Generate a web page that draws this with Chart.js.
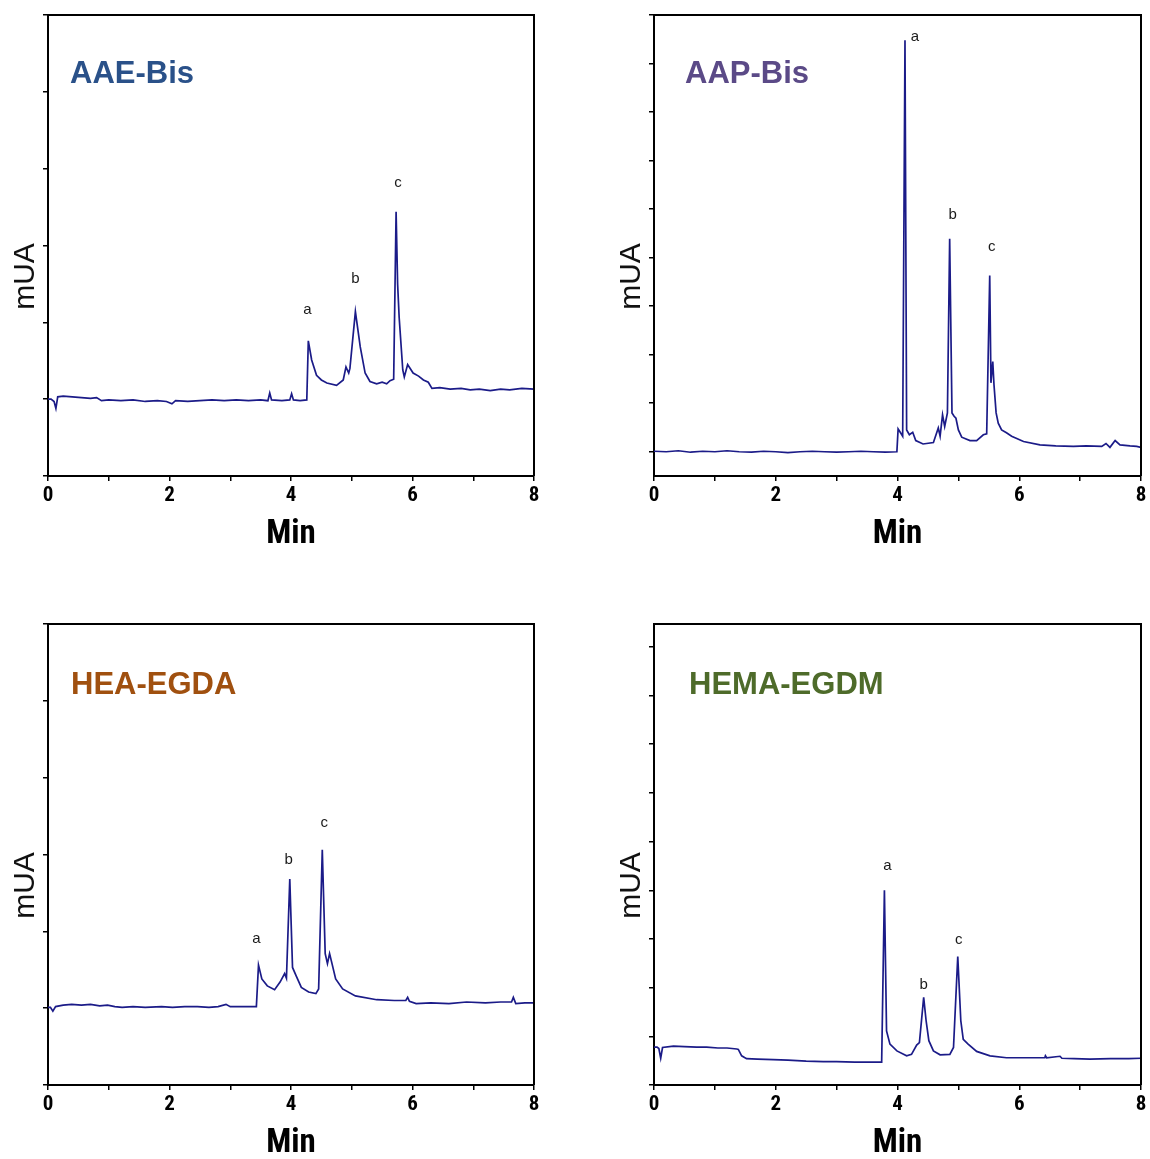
<!DOCTYPE html>
<html>
<head>
<meta charset="utf-8">
<script src="https://cdn.jsdelivr.net/npm/chart.js@4.4.1/dist/chart.umd.min.js"></script>
<style>
  html, body { margin: 0; padding: 0; background: #fff; }
  body { width: 1150px; height: 1159px; position: relative; overflow: hidden; }
  canvas { position: absolute; }
</style>
</head>
<body>
<canvas id="aaeChart" width="544" height="570" style="left:0;top:0"></canvas>
<canvas id="aapChart" width="544" height="570" style="left:606px;top:0"></canvas>
<canvas id="heaChart" width="544" height="570" style="left:0;top:609px"></canvas>
<canvas id="hemaChart" width="544" height="570" style="left:606px;top:609px"></canvas>
<script>
// retention time (min) and detector signal (mUA) for each run
const aaeTime = [0, 0.05, 0.10, 0.13, 0.16, 0.25, 0.40, 0.55, 0.70, 0.80, 0.88, 1.00, 1.20, 1.40, 1.60,
  1.80, 1.95, 2.04, 2.10, 2.30, 2.50, 2.70, 2.90, 3.10, 3.30, 3.50, 3.62, 3.65, 3.68, 3.85, 3.98, 4.01,
  4.04, 4.15, 4.26, 4.285, 4.34, 4.42, 4.50, 4.59, 4.75, 4.86, 4.905, 4.95, 4.97, 5.06, 5.14, 5.22, 5.30,
  5.41, 5.50, 5.575, 5.63, 5.69, 5.73, 5.755, 5.78, 5.84, 5.865, 5.92, 6.01, 6.10, 6.18, 6.26, 6.32,
  6.45, 6.62, 6.80, 6.95, 7.10, 7.28, 7.45, 7.60, 7.80, 8.00];
const aaeSignal = [10.0, 10.0, 9.7, 8.8, 10.3, 10.4, 10.3, 10.2, 10.1, 10.2, 9.8, 9.9, 9.8, 9.9, 9.7,
  9.8, 9.7, 9.4, 9.8, 9.7, 9.8, 9.9, 9.8, 9.9, 9.8, 9.9, 9.8, 10.8, 9.9, 9.8, 9.9, 10.7,
  9.9, 9.8, 9.9, 17.6, 15.1, 13.1, 12.5, 12.1, 11.8, 12.5, 14.2, 13.4, 14.0, 21.4, 16.8, 13.4, 12.3,
  12.0, 12.2, 12.0, 12.4, 12.6, 34.4, 25.0, 20.7, 13.8, 12.9, 14.5, 13.4, 13.0, 12.5, 12.2, 11.4,
  11.5, 11.3, 11.4, 11.2, 11.3, 11.1, 11.3, 11.2, 11.4, 11.3];

const aapTime = [0.00, 0.20, 0.40, 0.60, 0.80, 1.00, 1.20, 1.40, 1.60, 1.80, 2.00, 2.20, 2.40, 2.60, 2.80,
  3.00, 3.20, 3.40, 3.60, 3.80, 3.99, 4.01, 4.05, 4.085, 4.123, 4.15, 4.195, 4.25, 4.30, 4.42,
  4.59, 4.67, 4.70, 4.74, 4.775, 4.82, 4.857, 4.895, 4.93, 4.96, 5.00, 5.055, 5.19, 5.30, 5.41,
  5.465, 5.515, 5.535, 5.565, 5.585, 5.62, 5.655, 5.71, 5.79, 5.875, 6.07, 6.34, 6.60, 6.89, 7.10,
  7.355, 7.425, 7.49, 7.575, 7.655, 7.82, 7.93, 8.00];
const aapSignal = [0.1, 0.0, 0.2, -0.1, 0.1, 0.0, 0.2, 0.0, -0.1, 0.1, 0.0, -0.2, 0.0, 0.1, 0.0,
  -0.1, 0.0, 0.1, 0.0, -0.1, 0.0, 4.7, 3.9, 3.2, 84.8, 4.5, 3.5, 4.0, 2.3, 1.6,
  1.9, 4.9, 3.2, 7.6, 5.2, 8.0, 43.9, 8.0, 7.3, 6.9, 4.5, 3.0, 2.3, 2.3, 3.5,
  3.7, 36.3, 14.2, 18.6, 13.8, 8.0, 5.9, 4.5, 3.9, 3.2, 2.1, 1.4, 1.2, 1.1, 1.2,
  1.1, 1.7, 0.9, 2.3, 1.4, 1.2, 1.1, 0.9];

const heaTime = [0.00, 0.04, 0.08, 0.125, 0.25, 0.39, 0.55, 0.70, 0.85, 0.98, 1.10, 1.22, 1.40, 1.60, 1.87,
  2.05, 2.25, 2.46, 2.65, 2.80, 2.93, 3.00, 3.15, 3.34, 3.43, 3.465, 3.52, 3.61, 3.73, 3.82,
  3.895, 3.925, 3.98, 4.025, 4.085, 4.17, 4.29, 4.41, 4.455, 4.515, 4.563, 4.60, 4.635, 4.675, 4.735,
  4.85, 5.06, 5.41, 5.70, 5.89, 5.92, 5.95, 6.06, 6.30, 6.60, 6.89, 7.20, 7.45, 7.63, 7.66,
  7.70, 7.85, 8.00];
const heaSignal = [10.1, 10.1, 9.6, 10.2, 10.4, 10.5, 10.4, 10.5, 10.3, 10.4, 10.2, 10.1, 10.2, 10.1, 10.2,
  10.1, 10.2, 10.2, 10.1, 10.2, 10.5, 10.2, 10.2, 10.2, 10.2, 15.6, 13.8, 12.9, 12.4, 13.4,
  14.5, 13.9, 26.8, 15.3, 14.2, 12.7, 12.1, 11.9, 12.5, 30.6, 17.1, 15.8, 17.1, 15.8, 13.8,
  12.5, 11.6, 11.1, 11.0, 11.0, 11.4, 10.9, 10.6, 10.7, 10.6, 10.8, 10.7, 10.8, 10.8, 11.4,
  10.6, 10.7, 10.7];

const hemaTime = [0.00, 0.05, 0.08, 0.11, 0.14, 0.32, 0.50, 0.70, 0.865, 1.05, 1.20, 1.36, 1.385, 1.44, 1.52,
  1.70, 1.96, 2.20, 2.50, 2.78, 3.00, 3.30, 3.55, 3.74, 3.785, 3.82, 3.876, 3.99, 4.15, 4.23,
  4.315, 4.36, 4.43, 4.47, 4.515, 4.59, 4.70, 4.86, 4.92, 4.99, 5.04, 5.08, 5.16, 5.30, 5.52,
  5.79, 6.10, 6.42, 6.43, 6.45, 6.67, 6.70, 6.90, 7.16, 7.50, 7.80, 8.00];
const hemaSignal = [7.8, 7.8, 7.5, 5.5, 7.7, 8.0, 7.9, 7.8, 7.8, 7.6, 7.6, 7.4, 7.3, 6.0, 5.4,
  5.3, 5.2, 5.1, 4.9, 4.8, 4.8, 4.7, 4.7, 4.7, 40.0, 11.1, 8.4, 7.0, 6.0, 6.3,
  8.2, 8.7, 18.0, 13.2, 9.1, 7.0, 6.2, 6.3, 7.7, 26.4, 13.2, 9.4, 8.4, 6.9, 6.0,
  5.6, 5.6, 5.6, 6.0, 5.6, 5.9, 5.5, 5.4, 5.3, 5.4, 5.4, 5.5];

// peak names and their retention times
const peakNames = ["a", "b", "c"];
const aaePeaks = [4.285, 5.06, 5.73];
const aapPeaks = [4.123, 4.857, 5.515];
const heaPeaks = [3.465, 3.98, 4.515];
const hemaPeaks = [3.785, 4.43, 4.99];

// axis ticks
const xTicks = [0, 1, 2, 3, 4, 5, 6, 7, 8];
const xTickLabels = [0, 2, 4, 6, 8];
const yTicksShort = [0, 10, 20, 30, 40, 50, 60];
const yTicksTall = [0, 10, 20, 30, 40, 50, 60, 70, 80, 90];

const TRACE = "#1b1b88";
const NARROW = "'Liberation Sans Narrow', 'Roboto Condensed', 'DejaVu Sans Condensed', 'Liberation Sans', sans-serif";
const SANS = "'Liberation Sans', Arial, sans-serif";

function buildPanel(id, cfg) {
  const ctx = document.getElementById(id).getContext("2d");
  const points = cfg.time.map((t, i) => ({ x: t, y: cfg.signal[i] }));

  // frame, sample name, y title and peak letters
  const decor = {
    id: "decor",
    afterDatasetsDraw(chart) {
      const { ctx: c, chartArea: a, scales } = chart;
      c.save();
      c.strokeStyle = "#000";
      c.lineWidth = 2;
      c.beginPath();
      c.moveTo(a.left, a.top);
      c.lineTo(a.right, a.top);
      c.lineTo(a.right, a.bottom);
      c.stroke();

      c.fillStyle = cfg.color;
      c.font = "bold 31px " + SANS;
      c.textAlign = "left";
      c.textBaseline = "middle";
      c.fillText(cfg.name, a.left + cfg.nameDx, a.top + cfg.nameDy);

      c.fillStyle = "#1a1a1a";
      c.font = "15px " + SANS;
      c.textAlign = "center";
      cfg.peaks.forEach((pt, k) => {
        let idx = 0;
        cfg.time.forEach((t, i) => {
          if (Math.abs(t - pt) < Math.abs(cfg.time[idx] - pt)) idx = i;
        });
        const px = scales.x.getPixelForValue(cfg.time[idx]);
        const py = scales.y.getPixelForValue(cfg.signal[idx]);
        const [dx, dy] = cfg.labelShift[k];
        c.fillText(peakNames[k], px + dx, py + dy);
      });

      c.fillStyle = "#111";
      c.font = "30px " + SANS;
      c.translate(26, (a.top + a.bottom) / 2 + 31);
      c.rotate(-Math.PI / 2);
      c.fillText("mUA", 0, 0);
      c.restore();
    }
  };

  return new Chart(ctx, {
    type: "line",
    data: {
      datasets: [{
        data: points,
        borderColor: TRACE,
        borderWidth: 1.7,
        pointRadius: 0,
        tension: 0,
        fill: false,
      }],
    },
    options: {
      responsive: false,
      animation: false,
      events: [],
      layout: { padding: { top: 15, left: 0, right: cfg.padRight, bottom: 0 } },
      plugins: { legend: { display: false }, tooltip: { enabled: false } },
      scales: {
        x: {
          type: "linear",
          min: 0,
          max: 8,
          afterBuildTicks: (s) => { s.ticks = xTicks.map((v) => ({ value: v })); },
          afterFit: (s) => { s.height = 94; },
          ticks: {
            autoSkip: false,
            maxRotation: 0,
            padding: 2,
            color: "#000",
            font: { family: NARROW, size: 21, weight: "bold" },
            callback: (v) => (xTickLabels.includes(v) ? String(v) : ""),
          },
          grid: { drawOnChartArea: false, tickLength: 5, color: "#000", lineWidth: 1.5 },
          border: { color: "#000", width: 2 },
          title: {
            display: true,
            text: "Min",
            color: "#000",
            font: { family: NARROW, size: 33, weight: "bold" },
            padding: { top: 0, bottom: 15 },
          },
        },
        y: {
          min: cfg.yMin,
          max: cfg.yMax,
          afterBuildTicks: (s) => { s.ticks = cfg.yTicks.map((v) => ({ value: v })); },
          afterFit: (s) => { s.width = 48; },
          ticks: { display: false },
          grid: { drawOnChartArea: false, tickLength: 5, color: "#000", lineWidth: 1.5 },
          border: { color: "#000", width: 2 },
        },
      },
    },
    plugins: [decor],
  });
}

buildPanel("aaeChart", {
  time: aaeTime, signal: aaeSignal, peaks: aaePeaks,
  labelShift: [[-1, -31], [0, -33], [2, -29]],
  name: "AAE-Bis", color: "#2a5189", nameDx: 22, nameDy: 59.5,
  yMin: 0, yMax: 60, yTicks: yTicksShort, padRight: 10,
});

buildPanel("aapChart", {
  time: aapTime, signal: aapSignal, peaks: aapPeaks,
  labelShift: [[10, -3], [3, -24], [2, -29]],
  name: "AAP-Bis", color: "#5b4a87", nameDx: 31, nameDy: 59.5,
  yMin: -5, yMax: 90, yTicks: yTicksTall, padRight: 9,
});

buildPanel("heaChart", {
  time: heaTime, signal: heaSignal, peaks: heaPeaks,
  labelShift: [[-2, -26], [-1, -19], [2, -27]],
  name: "HEA-EGDA", color: "#a0500f", nameDx: 23, nameDy: 61,
  yMin: 0, yMax: 60, yTicks: yTicksShort, padRight: 10,
});

buildPanel("hemaChart", {
  time: hemaTime, signal: hemaSignal, peaks: hemaPeaks,
  labelShift: [[3, -24], [0, -13], [1, -17]],
  name: "HEMA-EGDM", color: "#4e6b2a", nameDx: 35, nameDy: 61,
  yMin: 0, yMax: 94.7, yTicks: yTicksTall, padRight: 9,
});
</script>
</body>
</html>
